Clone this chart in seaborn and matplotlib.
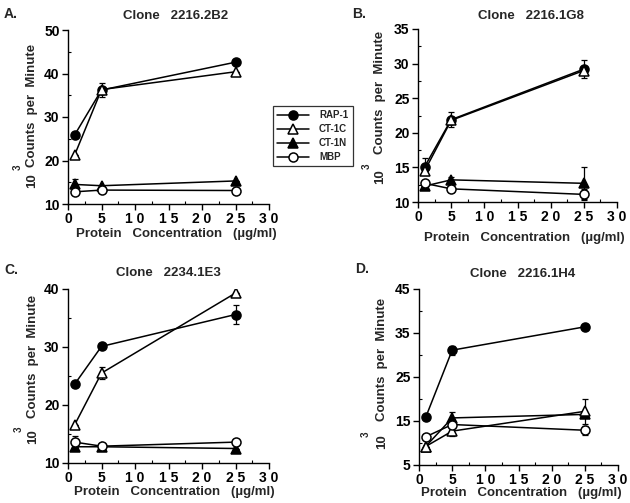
import matplotlib
matplotlib.use("Agg")
import matplotlib.pyplot as plt
import seaborn as sns
import pandas as pd
from matplotlib.ticker import MultipleLocator, FixedLocator, FixedFormatter
from matplotlib.lines import Line2D

# ---------------- data ----------------
conc = [1, 5, 25]
series = ["RAP-1", "CT-1C", "CT-1N", "MBP"]

panel_letters = ["A.", "B.", "C.", "D."]
clones = ["Clone   2216.2B2", "Clone   2216.1G8", "Clone   2234.1E3", "Clone   2216.1H4"]

# Panel A
a_rap1 = [25.9, 36.2, 42.6]
a_ct1c = [21.3, 36.3, 40.4]
a_ct1n = [14.5, 14.2, 15.3]
a_mbp = [12.8, 13.2, 13.1]
a_rap1_err = [0, 1.6, 0]
a_ct1c_err = [0, 0, 0]
a_ct1n_err = [1.2, 0, 0]
a_mbp_err = [0, 0, 0]

# Panel B
b_rap1 = [15.1, 21.9, 29.2]
b_ct1c = [14.5, 21.8, 29.0]
b_ct1n = [12.3, 13.2, 12.7]
b_mbp = [12.7, 11.9, 11.1]
b_rap1_err = [1.2, 1.1, 1.3]
b_ct1c_err = [0, 0, 0]
b_ct1n_err = [0, 0.4, 2.3]
b_mbp_err = [0, 0.5, 0.8]

# Panel C
c_rap1 = [23.6, 30.1, 35.6]
c_ct1c = [16.6, 25.5, 39.3]
c_ct1n = [12.8, 12.8, 12.5]
c_mbp = [13.6, 12.9, 13.6]
c_rap1_err = [0, 0, 1.7]
c_ct1c_err = [0, 1.0, 0]
c_ct1n_err = [0, 0, 0]
c_mbp_err = [1.0, 0, 0.5]

# Panel D
d_rap1 = [15.8, 31.1, 36.4]
d_ct1c = [9.2, 12.7, 17.2]
d_ct1n = [9.2, 15.7, 16.5]
d_mbp = [11.4, 14.2, 12.9]
d_rap1_err = [0, 1.0, 0]
d_ct1c_err = [0, 1.0, 2.8]
d_ct1n_err = [0, 1.3, 0]
d_mbp_err = [0, 0, 1.0]

panel_values = [
    (a_rap1, a_ct1c, a_ct1n, a_mbp),
    (b_rap1, b_ct1c, b_ct1n, b_mbp),
    (c_rap1, c_ct1c, c_ct1n, c_mbp),
    (d_rap1, d_ct1c, d_ct1n, d_mbp),
]
panel_errors = [
    (a_rap1_err, a_ct1c_err, a_ct1n_err, a_mbp_err),
    (b_rap1_err, b_ct1c_err, b_ct1n_err, b_mbp_err),
    (c_rap1_err, c_ct1c_err, c_ct1n_err, c_mbp_err),
    (d_rap1_err, d_ct1c_err, d_ct1n_err, d_mbp_err),
]

x_ticks = [0, 5, 10, 15, 20, 25, 30]
x_tick_labels = ["0", "5", "1 0", "1 5", "2 0", "2 5", "3 0"]
y_limits = [(10, 50), (10, 35), (10, 40), (5, 45)]
y_ticks = [[10, 20, 30, 40, 50], [10, 15, 20, 25, 30, 35], [10, 20, 30, 40], [5, 15, 25, 35, 45]]
y_minor = [5, 2.5, 5, 5]

# ---------------- styling ----------------
sns.set_theme(style="ticks")
plt.rcParams["font.family"] = ["Liberation Sans", "DejaVu Sans"]
plt.rcParams["font.weight"] = "bold"

styles = {
    "RAP-1": dict(marker="o", markerfacecolor="black"),
    "CT-1C": dict(marker="^", markerfacecolor="white"),
    "CT-1N": dict(marker="^", markerfacecolor="black"),
    "MBP": dict(marker="o", markerfacecolor="white"),
}

W, H = 630, 503
fig = plt.figure(figsize=(6.3, 5.03), dpi=100)

# axes rectangles in pixels: left, right, top, bottom
rects = [(68, 269, 30, 204), (418, 617, 29, 202), (68, 269, 289, 463), (419, 618, 289, 465)]
letter_pos = [(4, 14), (352, 14), (4, 270), (355, 269)]
title_pos = [(176, 16), (531, 16), (168, 273), (523, 274)]
xlabel_pos = [(176, 234), (524, 238), (174, 492), (521, 493)]
ylabel_pos = [(32, 105, 181, 18, 167), (380, 92, 177, 367, 166), (33, 356, 437, 19, 429), (382, 359, 442, 366, 434)]

draw_order = ["RAP-1", "CT-1N", "CT-1C", "MBP"]

for i in range(4):
    l, r, t, b = rects[i]
    ax = fig.add_axes([l / W, 1 - b / H, (r - l) / W, (b - t) / H])
    vals = dict(zip(series, panel_values[i]))
    errs = dict(zip(series, panel_errors[i]))
    for s in draw_order:
        df = pd.DataFrame({"conc": conc, "cpm": vals[s]})
        ax.errorbar(conc, vals[s], yerr=errs[s], fmt="none", ecolor="black",
                    elinewidth=0.9, capsize=2, capthick=0.9, zorder=2)
        sns.lineplot(data=df, x="conc", y="cpm", ax=ax, color="black",
                     linewidth=1.1, markersize=6.5, markeredgecolor="black",
                     markeredgewidth=1.1, zorder=3, **styles[s])
    ax.set_xlim(0, 30)
    ax.set_ylim(*y_limits[i])
    ax.xaxis.set_major_locator(FixedLocator(x_ticks))
    ax.xaxis.set_major_formatter(FixedFormatter(x_tick_labels))
    ax.xaxis.set_minor_locator(MultipleLocator(2.5))
    ax.yaxis.set_major_locator(FixedLocator(y_ticks[i]))
    ax.yaxis.set_minor_locator(MultipleLocator(y_minor[i]))
    ax.tick_params(which="major", direction="out", length=4, width=1, labelsize=10,
                   colors="black", pad=2)
    ax.tick_params(which="minor", direction="in", length=2.5, width=0.8, colors="black")
    for lab in ax.get_xticklabels() + ax.get_yticklabels():
        lab.set_fontweight("bold")
    sns.despine(ax=ax)
    for sp in ("left", "bottom"):
        ax.spines[sp].set_linewidth(1.0)
        ax.spines[sp].set_color("black")
    ax.set_xlabel("")
    ax.set_ylabel("")
    ax.set_facecolor("white")

    fig.text(letter_pos[i][0] / W, 1 - letter_pos[i][1] / H, panel_letters[i],
             fontsize=10, fontweight="bold", ha="left", va="center")
    fig.text(title_pos[i][0] / W, 1 - title_pos[i][1] / H, clones[i],
             fontsize=9.5, fontweight="bold", ha="center", va="center")
    fig.text(xlabel_pos[i][0] / W, 1 - xlabel_pos[i][1] / H,
             "Protein   Concentration   (\u00b5g/ml)",
             fontsize=9.5, fontweight="bold", ha="center", va="center")
    yx, yc, tenc, tx, ty = ylabel_pos[i]
    fig.text(yx / W, 1 - yc / H, "Counts  per  Minute", rotation=90,
             fontsize=9.5, fontweight="bold", ha="center", va="center")
    fig.text(yx / W, 1 - tenc / H, "10", rotation=90,
             fontsize=9.5, fontweight="bold", ha="center", va="center")
    fig.text(tx / W, 1 - ty / H, "3", rotation=90,
             fontsize=7, fontweight="bold", ha="center", va="center")

handles = [Line2D([0], [0], color="black", linewidth=1.1, markersize=6.5,
                  markeredgecolor="black", markeredgewidth=1.1, **styles[s]) for s in series]
leg = fig.legend(handles, series, loc="upper left",
                 bbox_to_anchor=(268 / W, 1 - 101 / H), frameon=True, fancybox=False,
                 edgecolor="black", handlelength=3.3, handletextpad=1.0,
                 labelspacing=0.4, borderpad=0.45, prop={"size": 7, "weight": "bold"})
leg.get_frame().set_linewidth(0.9)

fig.savefig("out.png", dpi=100, facecolor="white")
